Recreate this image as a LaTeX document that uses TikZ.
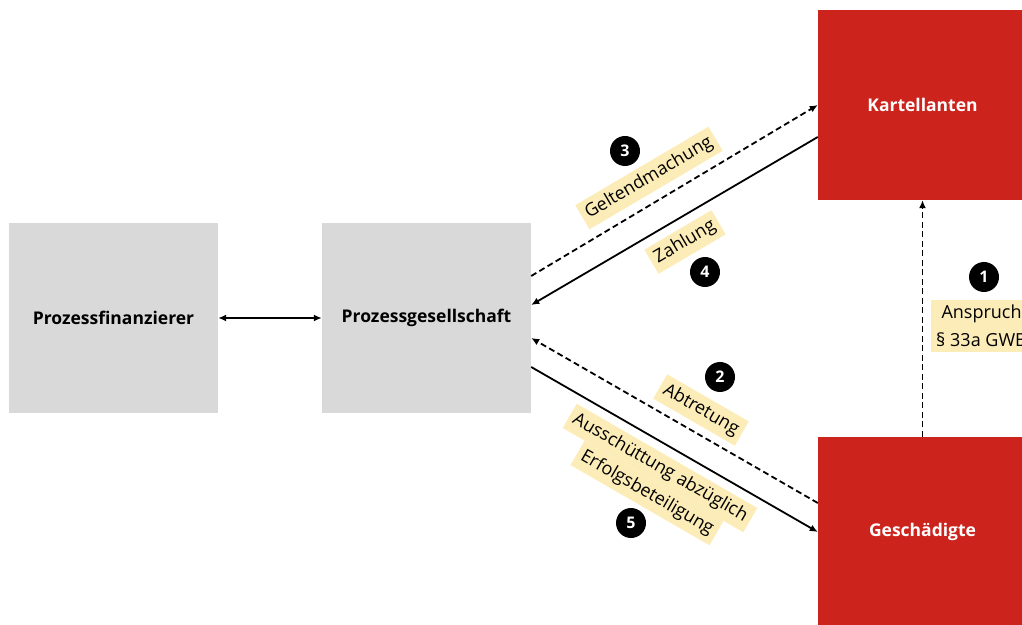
\documentclass[tikz,border=0pt]{standalone}
\usepackage{fontspec}
\setmainfont{Open Sans}
\usetikzlibrary{arrows.meta}

\definecolor{boxgray}{RGB}{217,217,217}
\definecolor{boxred}{RGB}{204,36,29}
\definecolor{labelyellow}{RGB}{252,236,183}

\tikzset{
  greybox/.style={fill=boxgray, minimum width=209pt, minimum height=190pt, inner sep=0pt, font=\bfseries\fontsize{17.5}{21}\selectfont},
  redbox/.style={greybox, fill=boxred, text=white},
  flow/.style={line width=1.8pt, -{Latex[length=8pt,width=7pt]}},
  claim/.style={flow, dash pattern=on 6pt off 3.5pt},
  tag/.style={fill=labelyellow, inner xsep=5pt, inner ysep=5pt, font=\fontsize{18}{28}\selectfont},
  stepnum/.style={circle, fill=black, text=white, minimum size=30pt, inner sep=0pt, font=\bfseries\fontsize{16}{16}\selectfont},
}

\begin{document}
\begin{tikzpicture}[x=1pt, y=1pt]
\clip (0,0) rectangle (1022,624);
% boxes
\node[greybox] (pf) at (113.5, 306) {Prozessfinanzierer};
\node[greybox] (pg) at (426.5, 306) {Prozessgesellschaft};
\node[redbox] (ka) at (922.5, 519) {Kartellanten};
\node[redbox] (gs) at (922.5, 92) {Geschädigte};

% connectors
\draw[line width=1.8pt, {Latex[length=8pt,width=7pt]}-{Latex[length=8pt,width=7pt]}] (pf.east) -- (pg.west);
\draw[claim] (gs.north) -- (ka.south);
\draw[claim] ([yshift=29pt]gs.west) -- ([yshift=-20pt]pg.east);
\draw[claim] ([yshift=42pt]pg.east) -- (ka.west);
\draw[flow] ([yshift=-32pt]ka.west) -- ([yshift=13pt]pg.east);
\draw[flow] ([yshift=-49pt]pg.east) -- (gs.west);

% labels
\node[stepnum] (n1) at (984, 347) {1};
\node[tag, align=center, anchor=west] (anspruch) at (931, 298) {Anspruch\\§ 33a GWB};
\node[stepnum] (n2) at (720, 247) {2};
\node[tag, rotate=-30] (abtretung) at (701, 214) {Abtretung};
\node[stepnum] (n3) at (625, 473) {3};
\node[tag, rotate=30.5] (geltend) at (649, 446) {Geltendmachung};
\node[stepnum] (n4) at (705, 352) {4};
\node[tag, rotate=30.5] (zahlung) at (685, 382) {Zahlung};
\node[stepnum] (n5) at (631, 101) {5};
\node[tag, rotate=-30] (aus1) at (660, 156) {Ausschüttung abzüglich};
\node[tag, rotate=-30] (aus2) at (647, 131) {Erfolgsbeteiligung};
\end{tikzpicture}
\end{document}
